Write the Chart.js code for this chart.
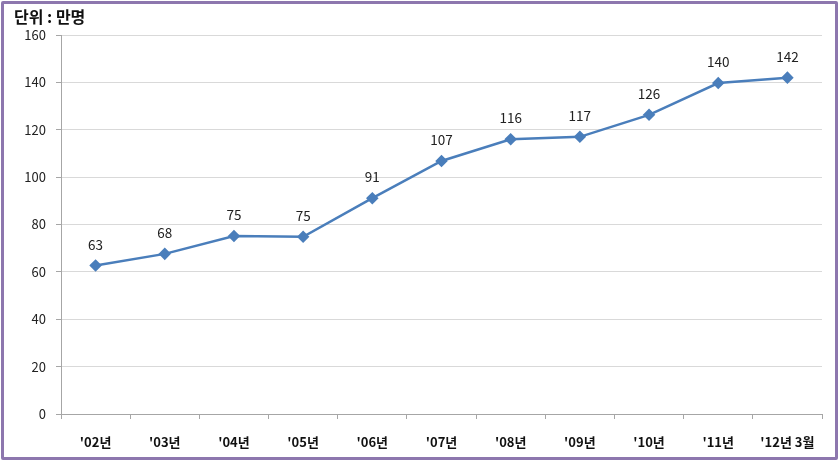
<!DOCTYPE html>
<html>
<head>
<meta charset="utf-8">
<script src="https://cdn.jsdelivr.net/npm/chart.js@4/dist/chart.umd.min.js"></script>
<style>
  html, body { margin: 0; padding: 0; background: #fff; }
  #frame {
    position: absolute; left: 1px; top: 1px; width: 831px; height: 453px;
    border: 3px solid #8d77ae; border-radius: 2px;
  }
  #unit {
    position: absolute; left: 14px; top: 4px;
    font-family: "Noto Sans CJK KR", sans-serif; font-weight: bold; font-size: 16px; color: #111;
  }
  #wrap { position: absolute; left: 0; top: 0; width: 839px; height: 462px; }
</style>
</head>
<body>
<div id="frame"></div>
<div id="wrap"><canvas id="myChart"></canvas></div>
<div id="unit">단위 : 만명</div>
<script>
const years = ["'02년", "'03년", "'04년", "'05년", "'06년", "'07년", "'08년", "'09년", "'10년", "'11년", "'12년 3월"];
const users = [62.7, 67.6, 75.1, 74.8, 91.1, 106.8, 116.0, 117.0, 126.3, 139.7, 142.0];
const shown = ['63', '68', '75', '75', '91', '107', '116', '117', '126', '140', '142'];

const font = "'Noto Sans CJK KR', sans-serif";

// 값 라벨 (점 위에 숫자)
const valueLabels = {
  id: 'valueLabels',
  afterDatasetsDraw(chart) {
    const ctx = chart.ctx;
    const meta = chart.getDatasetMeta(0);
    ctx.save();
    ctx.font = '13.5px ' + font;
    ctx.fillStyle = '#222';
    ctx.textAlign = 'center';
    ctx.textBaseline = 'middle';
    meta.data.forEach((pt, i) => {
      ctx.fillText(shown[i], pt.x, pt.y - 21);
    });
    ctx.restore();
  }
};

new Chart(document.getElementById('myChart'), {
  type: 'line',
  data: {
    labels: years,
    datasets: [{
      data: users,
      borderColor: '#4a7ebb',
      backgroundColor: '#4a7ebb',
      borderWidth: 2.5,
      pointStyle: 'rectRot',
      pointRadius: 4.5,
      pointHoverRadius: 4.5,
      tension: 0
    }]
  },
  options: {
    responsive: true,
    maintainAspectRatio: false,
    animation: false,
    layout: { padding: { left: 0, right: 17, top: 35, bottom: 0 } },
    plugins: { legend: { display: false }, tooltip: { enabled: false } },
    scales: {
      x: {
        offset: true,
        grid: { offset: true, drawOnChartArea: false, drawTicks: true, tickLength: 5, color: '#a6a6a6' },
        border: { color: '#a6a6a6' },
        ticks: { font: { family: font, size: 13, weight: 'bold' }, color: '#111', padding: 15, maxRotation: 0, autoSkip: false },
        afterFit(s) { s.height = 48; }
      },
      y: {
        min: 0, max: 160,
        ticks: { stepSize: 20, font: { family: font, size: 13 }, color: '#222', padding: 10 },
        grid: { color: '#d9d9d9', tickLength: 5, tickColor: '#a6a6a6' },
        border: { color: '#a6a6a6' },
        afterFit(s) { s.width = 61; }
      }
    }
  },
  plugins: [valueLabels]
});
</script>
</body>
</html>
